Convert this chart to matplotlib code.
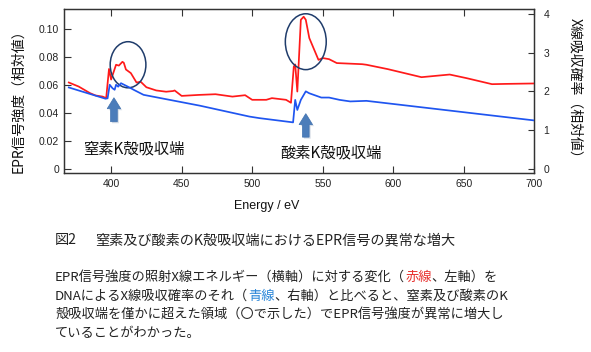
import matplotlib
matplotlib.use("Agg")
import matplotlib.pyplot as plt
from matplotlib.patches import Ellipse, FancyArrow
from matplotlib.text import Annotation
from matplotlib.transforms import IdentityTransform

# ---------------- data ----------------
epr_energy = [370, 377, 385, 389, 394, 396.5, 398.5, 400, 403.5, 405.5, 408, 409,
              410.5, 414, 418, 421, 425, 432, 439, 444, 445, 450, 462, 474, 486,
              495, 500, 510, 514, 524, 527.5, 529.5, 530.5, 532, 534.5, 536.5,
              538, 540.5, 544, 547, 550, 554.5, 560, 578, 581, 596, 620, 640,
              652, 670, 680, 700]
epr_value = [0.0619, 0.0590, 0.0543, 0.0526, 0.0518, 0.0507, 0.0716, 0.0640,
             0.0746, 0.0740, 0.0767, 0.0760, 0.0712, 0.0686, 0.0619, 0.0624,
             0.0585, 0.0562, 0.0553, 0.0558, 0.0562, 0.0523, 0.0530, 0.0535,
             0.0518, 0.0528, 0.0495, 0.0495, 0.0507, 0.0495, 0.0474, 0.0733,
             0.0748, 0.0554, 0.1068, 0.1090, 0.1068, 0.0937, 0.0853, 0.0781,
             0.0794, 0.0786, 0.0758, 0.0750, 0.0746, 0.0715, 0.0657, 0.0676,
             0.0650, 0.0607, 0.0609, 0.0612]

abs_energy = [370, 391, 396, 397.5, 399, 401, 402.5, 403.5, 405, 407, 413, 416,
              423, 463, 498, 505, 529, 530.5, 532, 534.5, 538, 540.5, 549,
              554.5, 562, 569.5, 581, 700]
abs_value = [2.10, 1.866, 1.81, 1.82, 2.17, 2.08, 2.04, 2.17, 2.12, 2.21, 2.10,
             2.04, 1.91, 1.63, 1.35, 1.31, 1.20, 1.78, 1.52, 1.78, 2.00, 1.95,
             1.84, 1.84, 1.78, 1.74, 1.755, 1.25]

x_ticks = [400, 450, 500, 550, 600, 650, 700]
left_ticks = [0, 0.02, 0.04, 0.06, 0.08, 0.10]
left_tick_labels = ["0", "0.02", "0.04", "0.06", "0.08", "0.10"]
right_ticks = [0, 1, 2, 3, 4]
right_tick_labels = ["0", "1", "2", "3", "4"]

edge_labels = ["窒素K殻吸収端", "酸素K殻吸収端"]
edge_energy = [402, 538]
circle_center_energy = [412, 538]
circle_center_value = [0.0746, 0.0911]

# ---------------- style ----------------
JP = ["Noto Sans CJK JP", "DejaVu Sans"]
LAT = ["Liberation Sans", "DejaVu Sans"]
W, H = 591, 352
fig = plt.figure(figsize=(W / 100, H / 100), dpi=100)
fig.patch.set_facecolor("white")

ax_l, ax_r, ax_t, ax_b = 64, 534.3, 9.3, 173
ax = fig.add_axes([ax_l / W, 1 - ax_b / H, (ax_r - ax_l) / W, (ax_b - ax_t) / H])
ax2 = ax.twinx()

red = "#FF1A1A"
blue = "#1F55F0"
ax.plot(epr_energy, epr_value, color=red, lw=1.25, zorder=3)
ax2.plot(abs_energy, abs_value, color=blue, lw=1.25, zorder=3)

ax.set_xlim(366.6, 700)
ax.set_ylim(-0.0029, 0.1143)
ax2.set_ylim(-0.105, 4.115)

ax.set_xticks(x_ticks)
ax.set_xticklabels([str(v) for v in x_ticks], family=LAT, fontsize=7.5, color="#222")
ax.set_yticks(left_ticks)
ax.set_yticklabels(left_tick_labels, family=LAT, fontsize=7.5, color="#222")
ax2.set_yticks(right_ticks)
ax2.set_yticklabels(right_tick_labels, family=LAT, fontsize=7.5, color="#222")

ax.tick_params(axis="x", direction="in", top=True, length=5, width=0.8, pad=4, color="#333")
ax.tick_params(axis="y", direction="in", length=5, width=0.8, pad=3.5, color="#333")
ax2.tick_params(axis="y", direction="in", length=4, width=0.8, pad=6.5, color="#333")
for a in (ax, ax2):
    for s in a.spines.values():
        s.set_color("#333")
        s.set_linewidth(0.9)

# circles highlighting anomalies
circle_w = [25.3, 29.0]
circle_h = [0.033, 0.040]
for e, v, w, h in zip(circle_center_energy, circle_center_value, circle_w, circle_h):
    ax.add_patch(Ellipse((e, v), w, h, fill=False, ec="#1F3C6B", lw=1.1, zorder=4))

# arrows (pixel geometry)
fig.canvas.draw()
arrow_tip = [0.0510, 0.0396]   # left-axis value where arrow tip sits
arrow_len = [24, 23.5]
for e, tipv, L in zip(edge_energy, arrow_tip, arrow_len):
    px, py = ax.transData.transform((e, tipv))
    sh = FancyArrow(px + 1.5, py - L - 1.5, 0, L, width=6.7, head_width=13.5,
                    head_length=11, length_includes_head=True,
                    transform=IdentityTransform(), fc="#B8C4D4", ec="none",
                    alpha=0.6, zorder=5)
    fig.add_artist(sh)
    ar = FancyArrow(px, py - L, 0, L, width=6.7, head_width=13.5, head_length=11,
                    length_includes_head=True, transform=IdentityTransform(),
                    fc="#4C7DBA", ec="#4172B0", lw=0.5, zorder=6)
    fig.add_artist(ar)

# edge labels
edge_label_pos = [(380.2, 0.0143), (519.8, 0.0115)]
for s, (e, v) in zip(edge_labels, edge_label_pos):
    ax.text(e, v, s, family=JP, fontsize=11, ha="left", va="center", color="#111", zorder=7)

# axis labels
fig.text(18.5 / W, 1 - 98 / H, "EPR信号強度（相対値）", rotation=90, family=JP,
         fontsize=10, ha="center", va="center", color="#111")
fig.text(575 / W, 1 - 91 / H, "X線吸収確率（相対値）", rotation=270, family=JP,
         fontsize=10, ha="center", va="center", color="#111")
fig.text(267 / W, 1 - 206 / H, "Energy / eV", family=LAT, fontsize=9,
         ha="center", va="center", color="#111")

# caption
txt_col = "#222222"
fig.text(55 / W, 1 - 240 / H, "図2", family=JP, fontsize=10.2, ha="left",
         va="center", color=txt_col)
fig.text(95 / W, 1 - 240 / H, "窒素及び酸素のK殻吸収端におけるEPR信号の異常な増大",
         family=JP, fontsize=10.2, ha="left", va="center", color=txt_col)


def colored_line(y_center_px, pieces, size=9.5):
    prev = None
    for s, c in pieces:
        if prev is None:
            prev = fig.text(55 / W, 1 - y_center_px / H, s, family=JP, fontsize=size,
                            ha="left", va="center", color=c)
        else:
            a = Annotation(s, xy=(1, 0.5), xycoords=prev, ha="left", va="center",
                           family=JP, fontsize=size, color=c)
            fig.add_artist(a)
            prev = a


colored_line(277.3, [("EPR信号強度の照射X線エネルギー（横軸）に対する変化（", txt_col),
                     ("赤線", "#E8302E"), ("、左軸）を", txt_col)])
colored_line(296.7, [("DNAによるX線吸収確率のそれ（", txt_col), ("青線", "#2A86D8"),
                     ("、右軸）と比べると、窒素及び酸素のK", txt_col)])
colored_line(315.0, [("殻吸収端を僅かに超えた領域（〇で示した）でEPR信号強度が異常に増大し", txt_col)])
colored_line(333.3, [("ていることがわかった。", txt_col)])

fig.savefig("out.png", dpi=100, facecolor="white")
